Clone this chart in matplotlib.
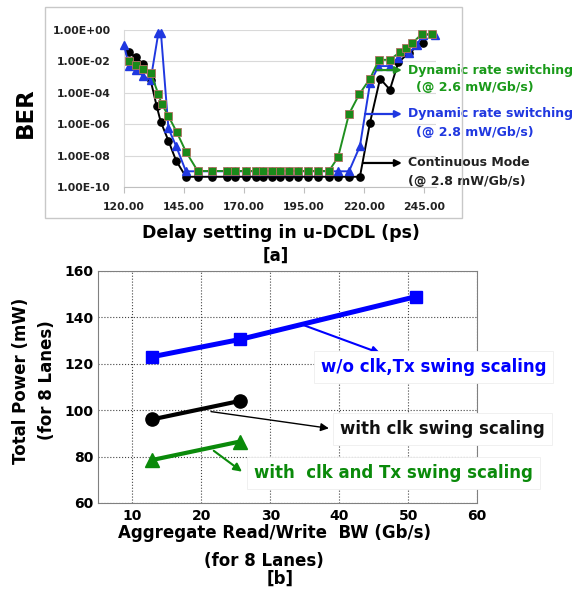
import numpy as np
import matplotlib.pyplot as plt
from matplotlib.patches import Rectangle
from matplotlib.ticker import NullLocator

plt.rcParams['font.family'] = ['DejaVu Sans']
plt.rcParams['font.weight'] = 'bold'

# ---- [a] BER vs delay setting (log10 of BER) ----
cont_x = [122.1, 125, 128, 131.1, 133.6, 135.3, 138.5, 141.7, 145.8,
          150.8, 156.7, 162.9, 166.3, 170.8, 175, 177.9, 181.7, 185, 188.75,
          192.5, 196.7, 200.8, 205.4, 209.2, 213.75, 218.3,
          222.5, 226.7, 230.8, 234.3, 238.75, 244.4]
cont_log = [-1.42, -1.74, -2.17, -3.2, -4.84, -5.84, -7.05, -8.32, -9.35,
            -9.35, -9.35, -9.35, -9.35, -9.35, -9.35, -9.35, -9.35, -9.35, -9.35,
            -9.35, -9.35, -9.35, -9.35, -9.35, -9.35, -9.35,
            -5.9, -3.1, -3.8, -2.06, -1.45, -0.8]

dyn26_x = [122.1, 125, 128, 131.1, 134.3, 135.7, 138.5, 141.9, 145.8,
           150.7, 156.7, 162.9, 166.3, 170.8, 175, 177.9, 181.7, 185, 188.75,
           192.5, 196.7, 200.8, 205.4,
           209.2, 213.75, 218, 222.5, 226.25, 230.8, 235, 237.5, 240, 244, 248.3]
dyn26_log = [-1.97, -2.23, -2.48, -2.72, -4.08, -4.71, -5.48, -6.48, -7.75,
             -8.98, -8.98, -8.98, -8.98, -8.98, -8.98, -8.98, -8.98, -8.98, -8.98,
             -8.98, -8.98, -8.98, -8.98,
             -8.1, -5.35, -4.1, -3.1, -1.9, -1.9, -1.4, -1.15, -0.85, -0.27, -0.27]

dyn28_x = [120, 122.1, 125, 128, 131.1, 134.3, 135.4, 138.5, 141.7, 145.8,
           150.7, 156.7, 162.9, 166.3, 170.8, 175, 177.9, 181.7, 185, 188.75,
           192.5, 196.7, 200.8, 205.4, 209.2, 213.75,
           218.3, 222.5, 226, 230.8, 234, 238.75, 242, 244.6, 249.6]
dyn28_log = [-0.96, -2.3, -2.55, -2.93, -3.18, -0.2, -0.2, -6.26, -7.39, -9.0,
             -9.0, -9.0, -9.0, -9.0, -9.0, -9.0, -9.0, -9.0, -9.0, -9.0,
             -9.0, -9.0, -9.0, -9.0, -9.0, -9.0,
             -7.4, -3.4, -2.3, -2.3, -1.8, -1.45, -0.95, -0.3, -0.3]

ber_xticks = [120, 145, 170, 195, 220, 245]
ber_yexp = [0, -2, -4, -6, -8, -10]

# ---- [b] total power vs aggregate BW ----
bw3 = [12.8, 25.6, 51.2]
p_noscale = [123, 130.5, 149]
bw2 = [12.8, 25.6]
p_clk = [96, 104]
p_clk_tx = [78.5, 86.5]

W, H = 586, 593
fig = plt.figure(figsize=(W / 100, H / 100), dpi=100)


def box(x0, y0, x1, y1):
    return [x0 / W, 1 - y1 / H, (x1 - x0) / W, (y1 - y0) / H]


fig.patches.append(Rectangle((45 / W, 1 - 218 / H), 417 / W, 211 / H,
                             transform=fig.transFigure, fill=False,
                             ec='#c8c8c8', lw=1))

blue_a = '#2038e0'
green_a = '#1f8f1f'

ax1 = fig.add_axes(box(124, 30, 436, 187))
ax1.set_yscale('log')
ax1.plot(cont_x, 10.0 ** np.array(cont_log), '-o', color='black', lw=1.4,
         ms=5.2, clip_on=False, zorder=3)
ax1.plot(dyn28_x, 10.0 ** np.array(dyn28_log), '-^', color=blue_a, lw=1.4,
         ms=5.5, clip_on=False, zorder=4)
ax1.plot(dyn26_x, 10.0 ** np.array(dyn26_log), '-s', color=green_a, lw=1.4,
         ms=5.2, mfc='#1a8a1a', mec='#b07060', mew=0.6, clip_on=False, zorder=5)
ax1.set_xlim(120, 250)
ax1.set_ylim(1e-10, 1)
ax1.set_xticks(ber_xticks)
ax1.set_xticklabels([f'{v:.2f}' for v in ber_xticks])
ax1.set_yticks([10.0 ** e for e in ber_yexp])
ax1.set_yticklabels([f'1.00E{e:+03d}' for e in ber_yexp])
ax1.yaxis.set_minor_locator(NullLocator())
ax1.tick_params(axis='y', length=0, pad=9.4, labelsize=7.8, labelcolor='#222222')
ax1.tick_params(axis='x', length=4, color='#bfbfbf', pad=6.5, labelsize=7.8,
                labelcolor='#222222')
ax1.grid(axis='y', color='#d9d9d9', lw=0.8)
ax1.set_axisbelow(True)
for s in ['top', 'right']:
    ax1.spines[s].set_visible(False)
ax1.spines['left'].set_color('#d9d9d9')
ax1.spines['bottom'].set_color('#bfbfbf')

# arrows + labels on [a]
arr_a = [(225.4, -2.55, green_a), (220.4, -5.35, blue_a), (219.6, -8.47, 'black')]
for x0, e, c in arr_a:
    ax1.annotate('', xy=(235.8, 10.0 ** e), xytext=(x0, 10.0 ** e),
                 arrowprops=dict(arrowstyle='-|>', color=c, lw=1.6,
                                 mutation_scale=10, shrinkA=0, shrinkB=0),
                 zorder=6)
ax1.text(238.3, 10.0 ** -2.55, 'Dynamic rate switching', color='#1a9a1a',
         fontsize=9, va='center')
ax1.text(241.7, 10.0 ** -3.69, '(@ 2.6 mW/Gb/s)', color='#1a9a1a',
         fontsize=9, va='center')
ax1.text(238.3, 10.0 ** -5.35, 'Dynamic rate switching', color=blue_a,
         fontsize=9, va='center')
ax1.text(241.7, 10.0 ** -6.56, '(@ 2.8 mW/Gb/s)', color=blue_a,
         fontsize=9, va='center')
ax1.text(238.3, 10.0 ** -8.47, 'Continuous Mode', color='#222222',
         fontsize=9, va='center')
ax1.text(238.3, 10.0 ** -9.68, '(@ 2.8 mW/Gb/s)', color='#222222',
         fontsize=9, va='center')

fig.text(25 / W, 1 - 113 / H, 'BER', rotation=90, fontsize=16.5,
         ha='center', va='center')
fig.text(281 / W, 1 - 233 / H, 'Delay setting in u-DCDL (ps)', fontsize=12.5,
         ha='center', va='center')
fig.text(276 / W, 1 - 256 / H, '[a]', fontsize=12, ha='center', va='center')

# ---- [b] ----
ax2 = fig.add_axes(box(98, 271, 477, 503))
ax2.plot(bw3, p_noscale, '-s', color='#0000ff', lw=3.6, ms=8.5,
         clip_on=False, zorder=4)
ax2.plot(bw2, p_clk, '-o', color='black', lw=3, ms=9.5,
         clip_on=False, zorder=4)
ax2.plot(bw2, p_clk_tx, '-^', color='#0a8a0a', lw=3, ms=10.5,
         clip_on=False, zorder=4)
ax2.set_xlim(5, 60)
ax2.set_ylim(60, 160)
ax2.set_xticks(range(10, 61, 10))
ax2.set_yticks(range(60, 161, 20))
ax2.tick_params(length=0, labelsize=10)
ax2.tick_params(axis='y', pad=3.4)
ax2.tick_params(axis='x', pad=4)
ax2.grid(ls=':', color='#444444', lw=0.8)
ax2.set_axisbelow(True)
for s in ax2.spines.values():
    s.set_color('#808080')

bb = dict(fc='white', ec='#eeeeee', lw=0.6, pad=5)
ax2.annotate('', xy=(46.0, 124.5), xytext=(34.8, 136.7),
             arrowprops=dict(arrowstyle='-|>', color='#0000ff', lw=1.5,
                             mutation_scale=12, shrinkA=0, shrinkB=0), zorder=5)
ax2.text(37.3, 118.5, 'w/o clk,Tx swing scaling', color='#0000ff', fontsize=12,
         va='center', bbox=bb, zorder=6)
ax2.annotate('', xy=(38.5, 92.2), xytext=(21.4, 99.4),
             arrowprops=dict(arrowstyle='-|>', color='black', lw=1.0,
                             mutation_scale=12, shrinkA=0, shrinkB=0), zorder=5)
ax2.text(40.1, 91.8, 'with clk swing scaling', color='#111111', fontsize=12,
         va='center', bbox=bb, zorder=6)
ax2.annotate('', xy=(25.9, 73.5), xytext=(21.8, 82.5),
             arrowprops=dict(arrowstyle='-|>', color='#0a8a0a', lw=1.5,
                             mutation_scale=12, shrinkA=0, shrinkB=0), zorder=5)
ax2.text(27.6, 72.8, 'with  clk and Tx swing scaling', color='#0a8a0a',
         fontsize=12, va='center', bbox=bb, zorder=6)

fig.text(20.7 / W, 1 - 380.5 / H, 'Total Power (mW)', rotation=90, fontsize=12,
         ha='center', va='center')
fig.text(46.7 / W, 1 - 380.5 / H, '(for 8 Lanes)', rotation=90, fontsize=12,
         ha='center', va='center')
fig.text(274 / W, 1 - 533 / H, 'Aggregate Read/Write  BW (Gb/s)', fontsize=12,
         ha='center', va='center')
fig.text(264 / W, 1 - 560.7 / H, '(for 8 Lanes)', fontsize=12,
         ha='center', va='center')
fig.text(279.7 / W, 1 - 579 / H, '[b]', fontsize=12, ha='center', va='center')

fig.savefig('out.png', dpi=100)
plt.close(fig)
